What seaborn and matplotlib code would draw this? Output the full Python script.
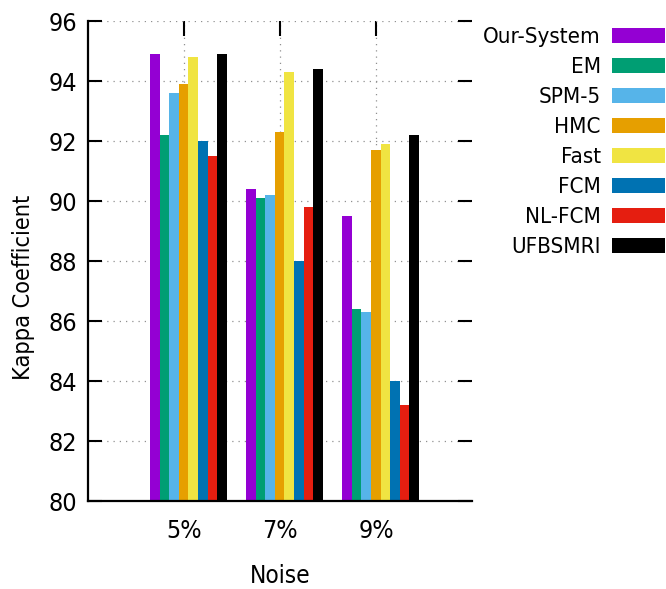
import matplotlib
matplotlib.use("Agg")
import matplotlib.pyplot as plt
import pandas as pd
import seaborn as sns

# DATA ==========================================================================
noise = ["5%", "7%", "9%"]
methods = ["Our-System", "EM", "SPM-5", "HMC", "Fast", "FCM", "NL-FCM", "UFBSMRI"]
colors = ["#9400d3", "#009e73", "#56b4e9", "#e69f00", "#f0e442", "#0072b2", "#e51e10", "#000000"]

our_system = [94.9, 90.4, 89.5]
em = [92.2, 90.1, 86.4]
spm5 = [93.6, 90.2, 86.3]
hmc = [93.9, 92.3, 91.7]
fast = [94.8, 94.3, 91.9]
fcm = [92.0, 88.0, 84.0]
nl_fcm = [91.5, 89.8, 83.2]
ufbsmri = [94.9, 94.4, 92.2]

series = [our_system, em, spm5, hmc, fast, fcm, nl_fcm, ufbsmri]
rows = []
for m, vals in zip(methods, series):
    for n, v in zip(noise, vals):
        rows.append({"Noise": n, "Method": m, "Kappa": v})
df = pd.DataFrame(rows)

# STYLE =========================================================================
sns.set_style("white")
plt.rcParams["font.family"] = ["DejaVu Sans"]
plt.rcParams["font.stretch"] = "condensed"
plt.rcParams["text.color"] = "black"
plt.rcParams["axes.labelcolor"] = "black"

fig, ax = plt.subplots(figsize=(6.66, 5.89), dpi=100)
fig.subplots_adjust(left=0.132, right=0.709, bottom=0.1494, top=0.9635)

sns.barplot(data=df, x="Noise", y="Kappa", hue="Method", hue_order=methods, order=noise,
            palette=colors, saturation=1, width=0.8, linewidth=0, ax=ax)

ax.set_ylim(80, 96)
ax.set_yticks(range(80, 97, 2))
shift = 0.046
ax.set_xlim(-1 - shift, 3 - shift)
ax.set_xticks([i - shift for i in range(len(noise))], noise)

ax.set_axisbelow(True)
ax.grid(True, linestyle=(0, (1, 4)), color="#909090", linewidth=0.9)

ax.spines[["top", "right"]].set_visible(False)
for s in ["left", "bottom"]:
    ax.spines[s].set_linewidth(1.6)
    ax.spines[s].set_color("black")

ax.tick_params(axis="y", direction="in", length=10, width=1.5, left=True, right=True,
               labelsize=18, pad=8, colors="black")
ax.tick_params(axis="x", direction="in", length=11, width=1.5, bottom=False, top=True,
               labelsize=18, pad=13, colors="black")

ax.set_ylabel("Kappa Coefficient", fontsize=16.8)
ax.yaxis.set_label_coords(-0.137, 0.445)
ax.set_xlabel("Noise", fontsize=17.5, labelpad=15)

handles, labels = ax.get_legend_handles_labels()
ax.get_legend().remove()
fig.legend(handles, labels, loc="upper right", bbox_to_anchor=(665 / 666, 1 - 27 / 589),
           frameon=False, markerfirst=False, handlelength=2.39, handleheight=0.68,
           handletextpad=0.5, labelspacing=0.45, borderpad=0, borderaxespad=0, fontsize=16)

plt.savefig("out.png", dpi=100)
